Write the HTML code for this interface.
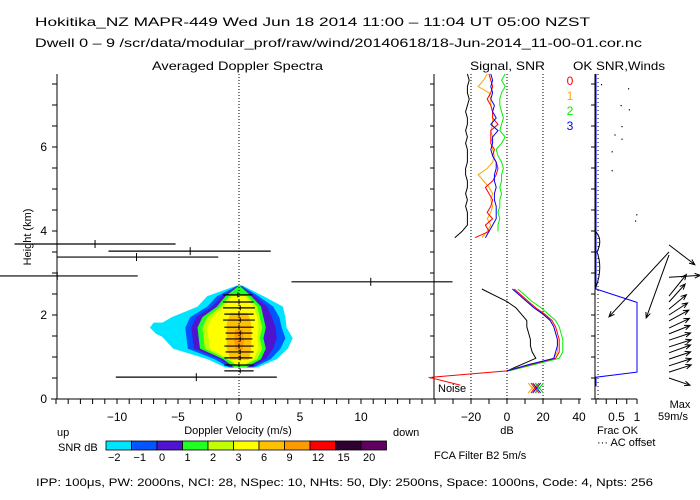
<!DOCTYPE html>
<html><head><meta charset="utf-8">
<style>
html,body{margin:0;padding:0;background:#fff;}
svg{display:block;font-family:"Liberation Sans",sans-serif;font-size:11px;}
</style></head>
<body>
<svg id="chart" width="700" height="500" viewBox="0 0 700 500" xmlns="http://www.w3.org/2000/svg">
<rect width="700" height="500" fill="#fff"/>
<text x="35" y="26" font-size="12" textLength="555" lengthAdjust="spacingAndGlyphs">Hokitika_NZ   MAPR-449   Wed Jun 18 2014 11:00 – 11:04 UT 05:00 NZST</text>
<text x="35" y="47" font-size="12" textLength="607" lengthAdjust="spacingAndGlyphs">Dwell  0 –  9   /scr/data/modular_prof/raw/wind/20140618/18-Jun-2014_11-00-01.cor.nc</text>
<text x="152" y="70" font-size="12" textLength="171" lengthAdjust="spacingAndGlyphs">Averaged Doppler Spectra</text>
<text x="470" y="70" font-size="12" textLength="75" lengthAdjust="spacingAndGlyphs">Signal, SNR</text>
<text x="573" y="70" font-size="12" textLength="92" lengthAdjust="spacingAndGlyphs">OK SNR,Winds</text>
<text transform="translate(31,237) rotate(-90)" text-anchor="middle" font-size="11">Height (km)</text>
<text x="238" y="434" text-anchor="middle" font-size="11">Doppler Velocity (m/s)</text>
<text x="57" y="436">up</text>
<text x="393" y="436">down</text>
<text x="58" y="451">SNR dB</text>
<text x="507" y="434" text-anchor="middle">dB</text>
<text x="597" y="434">Frac OK</text>
<text x="597" y="446">··· AC offset</text>
<text x="680" y="408" text-anchor="middle">Max</text>
<text x="673" y="420" text-anchor="middle">59m/s</text>
<text x="438" y="392">Noise</text>
<text x="434" y="459">FCA Filter B2   5m/s</text>
<text x="36" y="486" font-size="11" textLength="617" lengthAdjust="spacingAndGlyphs">IPP: 100μs,  PW: 2000ns,  NCI:  28,  NSpec: 10, NHts: 50,  Dly: 2500ns,  Space: 1000ns,  Code: 4,  Npts: 256</text>
<g id="g-contours"></g>
<g id="g-axes"></g>
<g id="g-marks"></g>
<g id="g-legend"></g>
</svg>
<script>
// ---------- data ----------
const hTicks = [0, 2, 4, 6];
const vTickLabels = [-10, -5, 0, 5, 10];
const dbTickLabels = [-20, 0, 20, 40];
const fracTickLabels = ["0.5", "1"];
const fracTickVals = [0.5, 1];
const cbLabels = ["−2","−1","0","1","2","3","6","9","12","15","20"];
const cbColors = ["#00e5ff","#0055ff","#5014d0","#22ff22","#c0ff00","#ffff00","#ffc000","#ff9900","#ff0000","#300030","#600060"];

// contour levels: heights (km) and left/right velocity bounds (m/s)
const cH = [2.7, 2.45, 2.2, 1.95, 1.7, 1.45, 1.2, 0.95, 0.75];
const cyanL = [-0.2,-2.6,-3.4,-5.5,-7.0,-6.2,-5.4,-2.6,-1.1];
const cyanR = [0.3,2.0,3.6,3.8,3.9,4.4,4.0,3.1,1.5];
const blueL = [-0.1,-1.8,-2.6,-4.0,-4.4,-4.3,-4.2,-2.0,-0.8];
const blueR = [0.2,1.6,2.8,3.3,3.5,3.8,3.4,2.6,1.2];
const purpL = [-0.05,-1.4,-2.2,-3.5,-3.9,-3.8,-3.7,-1.6,-0.6];
const purpR = [0.1,1.3,2.3,2.7,3.0,3.1,2.8,2.2,0.9];
const greenL = [0,-1.1,-1.8,-3.0,-3.4,-3.3,-3.2,-1.3,-0.4];
const greenR = [0.05,1.0,1.8,2.0,2.2,2.0,2.2,1.8,0.6];
const ygH = [2.45, 2.2, 1.95, 1.7, 1.45, 1.2, 0.95, 0.8];
const ygL = [-0.8,-1.5,-2.6,-3.0,-2.9,-2.8,-1.0,-0.2];
const ygR = [0.7,1.5,1.7,1.9,1.7,1.9,1.5,0.4];
const yelL = [-0.6,-1.2,-2.2,-2.6,-2.5,-2.4,-0.8,-0.1];
const yelR = [0.5,1.2,1.5,1.6,1.5,1.6,1.2,0.3];
const or6H = [2.05, 1.8, 1.5, 1.2, 0.93];
const or6L = [-0.7,-1.0,-1.0,-1.0,-0.7];
const or6R = [0.7,1.0,1.0,1.0,0.8];
const or9H = [1.65, 1.4, 1.17];
const or9L = [-0.3,-0.4,-0.3];
const or9R = [0.3,0.4,0.3];
const tailH = [1.82, 1.7, 1.55, 1.38];
const tailL = [-7.0,-7.3,-6.8,-5.5];
const tailR = [-4.5,-4.5,-4.5,-4.2];

// error bars (main panel)
const barH = [3.69,3.52,3.38,2.93,2.79,0.52,0.67,0.81,0.98,1.12,1.26,1.43,1.57,1.71,1.88,2.02,2.17,2.31,2.48];
const barMean = [-11.8,-4.0,-8.4,-14.9,10.8,-3.5,0.1,0.0,0.1,0.1,0.0,0.1,0.1,0.0,0.1,0.0,0.1,0.0,-0.1];
const barLo = [-18.4,-10.7,-14.9,-19.6,4.3,-10.1,-1.2,-1.2,-1.2,-1.1,-1.2,-1.1,-1.1,-1.2,-1.3,-1.2,-1.3,-1.3,-1.3];
const barHi = [-5.2,2.6,-1.7,-8.3,17.5,3.1,1.2,1.2,1.1,1.2,1.2,1.1,1.1,1.2,1.3,1.2,1.3,1.2,1.1];

// signal / SNR profiles
const hUp = [3.84,3.99,4.14,4.29,4.44,4.59,4.74,4.89,5.04,5.19,5.34,5.49,5.64,5.79,5.94,6.09,6.24,6.39,6.54,6.69,6.84,6.99,7.14,7.29,7.44,7.59,7.74];
const snr0Up = [-17.8,-10,-12,-8,-11,-9,-8,-10,-12,-8,-6,-5,-6,-8,-7,-9,-9,-9,-5,-8,-8,-9,-11,-9,-8,-9,-10];
const snr1Up = [-14,-11,-9,-11,-9,-8,-9,-8,-10,-13,-16,-11,-8,-7,-8,-9,-8,-9,-8,-8,-8,-9,-9,-10,-16,-13,-11];
const snr2Up = [null,-5,-5,-4,-5,-4,-4,-3,-4,-3,-3,-2,-3,-5,-6,-3,-1,-4,-3,-2,-3,-4,-4,-3,-1,-3,-1];
const snr3Up = [-12,-10,-8,-6,-6,-6,-7,-7,-6,-7,-7,-6,-6,-8,-9,-8,-8,-5,-9,-6,-8,-7,-9,-8,-9,-8,-9];
const sigUp = [-29,-25,-22,-22,-22,-23,-22,-23,-22,-22,-23,-23,-22,-22,-22,-23,-22,-23,-22,-22,-23,-22,-21,-22,-22,-21,-22];
const hLo = [0.52,0.67,0.82,0.97,1.12,1.27,1.42,1.57,1.72,1.87,2.02,2.17,2.32,2.47,2.62];
const snr0Lo = [-42,0,13,27,29,29,29,28,27,25,21,16,12,8,4];
const snr1Lo = [null,-0.5,12,26,28,28,28,27,26,24,20,16,11,7,3];
const snr2Lo = [null,1,15,29,31,31,31,30,29,27,23,19,14,10,6];
const snr3Lo = [null,0,12,26,27,28,28,27,26,24,20,15,11,7,3];
const sigLo = [null,0,8,16,14,13,13,12,11,11,8,5,0,-7,-14];
const noiseH = [0.52, 0.33];
const noiseDb = [-43.6, -26];
const xMarkDb = [14, 15.5, 16.5, 18];
const xMarkColors = ["#ffa500","#ff0000","#0000ff","#00cc00"];

// frac OK
const fracH = [7.74, 2.62, 2.3, 0.64, 0.52, 0.3];
const fracV = [0, 0, 1, 1, 0, 0];
const dotH = [7.4,7.5,7.0,6.9,6.5,6.3,6.2,5.9,5.45,4.4,4.25];
const dotF = [0.78,0.12,0.6,0.8,0.62,0.45,0.62,0.38,0.38,0.98,0.95];

// winds (m/s)
const windH = [0.5,0.64,0.79,0.95,1.1,1.24,1.4,1.55,1.69,1.86,2.0,2.14,2.31,2.45,2.9,3.43,3.5,3.67];
const windU = [35,37,37,36,36,37,36,35,34,33,31,29,27,29,52,-38,-100,43];
const windV = [-12,12,12,12,13,12,12,14,16,18,20,24,30,36,3,-105,-108,-33];

// ---------- scales ----------
const yH = h => 399 - 42*h;
const xV = v => 239 + 12.2*v;
const xDB = d => 507 + 1.8*d;
const xF = f => 596 + 41*f;
const NS = "http://www.w3.org/2000/svg";
function mk(tag, parent, attrs){ const e=document.createElementNS(NS,tag); for(const k in attrs) e.setAttribute(k,attrs[k]); parent.appendChild(e); return e; }
const gC=document.getElementById('g-contours'), gA=document.getElementById('g-axes'), gM=document.getElementById('g-marks'), gL=document.getElementById('g-legend');

function contour(H,L,R,color,name){
  const pts=[];
  for(let i=0;i<H.length;i++) pts.push(xV(L[i]).toFixed(1)+","+yH(H[i]).toFixed(1));
  for(let i=H.length-1;i>=0;i--) pts.push(xV(R[i]).toFixed(1)+","+yH(H[i]).toFixed(1));
  const p=mk('polygon',gC,{points:pts.join(" "),fill:color});
  
  
}
contour(tailH,tailL,tailR,cbColors[0],'contour-tail');
contour(cH,cyanL,cyanR,cbColors[0],'contour-minus2');
contour(cH,blueL,blueR,cbColors[1],'contour-minus1');
contour(cH,purpL,purpR,cbColors[2],'contour-0');
contour(cH,greenL,greenR,cbColors[3],'contour-1');
contour(ygH,ygL,ygR,cbColors[4],'contour-2');
contour(ygH,yelL,yelR,cbColors[5],'contour-3');
contour(or6H,or6L,or6R,cbColors[6],'contour-6');
contour(or9H,or9L,or9R,cbColors[7],'contour-9');

function line(x1,y1,x2,y2,attrs,name){ const l=mk('line',gA,Object.assign({x1,y1,x2,y2,stroke:'#000','stroke-width':1},attrs||{}));
  
  
  return l; }
line(57,74,57,399,{},'main-left-axis');
line(434,74,434,399,{},'main-right-axis');
line(51,399,434,399,{},'main-x-axis');
line(434,399,581,399,{},'signal-x-axis');
line(595,74,595,399,{},'frac-left-axis');
line(595,399,637,399,{},'frac-x-axis');
line(239,74,239,399,{'stroke-dasharray':'1,2'},'zero-velocity-line');
[-20,0,20].forEach(d=>line(xDB(d),74,xDB(d),399,{'stroke-dasharray':'1,2'},'db-gridline'));
line(598,74,598,399,{'stroke-dasharray':'1,3'},'ac-offset-line');
for(let h=0;h<=7.5;h+=0.5){ const y=yH(h);
  line(52,y,57,y,{},'y-tick'); line(430,y,434,y,{},'y-tick'); line(591,y,595,y,{},'y-tick'); }
hTicks.forEach(h=>{ const t=mk('text',gA,{x:47,y:yH(h)+4,'text-anchor':'end','font-size':12}); t.textContent=h;
    });
for(let v=-15;v<=16;v++){ const x=xV(v); if(x>=56&&x<=434) line(x,399,x,404,{},'x-tick'); }
vTickLabels.forEach(v=>{ const t=mk('text',gA,{x:xV(v),y:421,'text-anchor':'middle','font-size':12}); t.textContent=(v<0?'−'+(-v):v);
    });
for(let d=-40;d<=40;d+=10) line(xDB(d),399,xDB(d),404,{},'db-tick');
dbTickLabels.forEach(d=>{ const t=mk('text',gA,{x:xDB(d),y:421,'text-anchor':'middle','font-size':12}); t.textContent=(d<0?'−'+(-d):d);
    });
for(let f=0;f<=1.001;f+=0.25) line(xF(f),399,xF(f),404,{},'frac-tick');
fracTickVals.forEach((f,i)=>{ const t=mk('text',gA,{x:xF(f),y:421,'text-anchor':'middle','font-size':12}); t.textContent=fracTickLabels[i];
    });

for(let i=0;i<barH.length;i++){ const y=yH(barH[i]);
  const b=mk('line',gM,{x1:Math.max(0,xV(barLo[i])),y1:y,x2:xV(barHi[i]),y2:y,stroke:'#000','stroke-width':1.2});
   
  const th = (barHi[i]-barLo[i])>5 ? 4 : 2.5;
  const m=mk('line',gM,{x1:xV(barMean[i]),y1:y-th,x2:xV(barMean[i]),y2:y+th,stroke:'#000','stroke-width':1});
   
}

function prof(H,D,color,name,xf){
  let seg=[];
  const flush=()=>{ if(seg.length>1){ const p=mk('polyline',gM,{points:seg.join(' '),fill:'none',stroke:color,'stroke-width':1});
      
       } seg=[]; };
  for(let i=0;i<H.length;i++){ if(D[i]===null){flush();continue;} seg.push((xf||xDB)(D[i]).toFixed(1)+","+yH(H[i]).toFixed(1)); }
  flush();
}
prof(hUp,sigUp,'#000','signal-line-upper');
prof(hLo,sigLo,'#000','signal-line-lower');
prof(hUp,snr1Up,'#ffa500','snr-1-upper'); prof(hLo,snr1Lo,'#ffa500','snr-1-lower');
prof(hUp,snr2Up,'#00ee00','snr-2-upper'); prof(hLo,snr2Lo,'#00ee00','snr-2-lower');
prof(hUp,snr0Up,'#ff0000','snr-0-upper'); prof(hLo,snr0Lo,'#ff0000','snr-0-lower');
prof(hUp,snr3Up,'#0000ff','snr-3-upper'); prof(hLo,snr3Lo,'#0000ff','snr-3-lower');
prof(noiseH,noiseDb,'#ff0000','noise-line');
xMarkDb.forEach((d,i)=>{ const x=xDB(d), y=yH(0.26);
  const p=mk('path',gM,{d:`M${x-4},${y-5}L${x+4},${y+5}M${x+4},${y-5}L${x-4},${y+5}`,stroke:xMarkColors[i],'stroke-width':1,fill:'none'});
    });
["0","1","2","3"].forEach((s,i)=>{ const t=mk('text',gM,{x:570,y:85+15*i,'text-anchor':'middle',fill:['#ff0000','#ffa500','#00ee00','#0000ff'][i],'font-size':12}); t.textContent=s;
    });

prof(fracH,fracV,'#0000ff','frac-ok-line',xF);
dotH.forEach((h,i)=>{ const c=mk('rect',gM,{x:xF(dotF[i]),y:yH(h),width:1.2,height:1.2,fill:'#000'});
    });
const bulge=mk('path',gM,{d:'M596,232 Q603,240 597,252 Q603,268 596,287',fill:'none',stroke:'#000','stroke-width':1});
 

const k=0.6;
windH.forEach((h,i)=>{ const x0=669, y0=yH(h), x1=x0+windU[i]*k, y1=y0-windV[i]*k;
  const a=Math.atan2(y1-y0,x1-x0), L=6;
  const d=`M${x0},${y0}L${x1},${y1}M${x1-L*Math.cos(a-0.4)},${y1-L*Math.sin(a-0.4)}L${x1},${y1}L${x1-L*Math.cos(a+0.4)},${y1-L*Math.sin(a+0.4)}`;
  const p=mk('path',gM,{d,stroke:'#000','stroke-width':1,fill:'none'});
    });

cbColors.forEach((c,i)=>{ const x=106+i*25.5;
  const r=mk('rect',gL,{x,y:441,width:25.5,height:9,fill:c,stroke:'#000','stroke-width':0.8});
   
  const t=mk('text',gL,{x:x+2,y:461,'font-size':11}); t.textContent=cbLabels[i];
    });
</script>
</body></html>
